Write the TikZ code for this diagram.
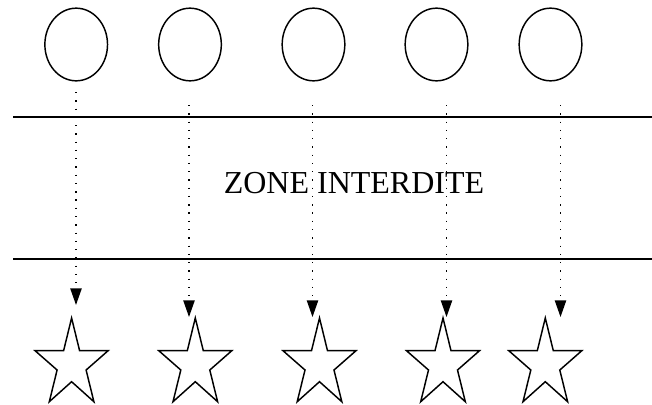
\documentclass[tikz,border=0pt]{standalone}
\usepackage{fontspec}
\setmainfont{Liberation Serif}
\usetikzlibrary{shapes.geometric,arrows.meta}
\begin{document}
\begin{tikzpicture}[x=0.75pt,y=-0.75pt,
  ball/.style={draw,ellipse,line width=1.1pt,minimum width=47pt,minimum height=54.5pt,inner sep=0pt},
  wall/.style={line width=1.7pt},
  fall/.style={line width=1pt,dash pattern=on 1pt off 5.2pt,
    -{Triangle[length=12.5pt,width=8.5pt,sharp]}},
  starline/.style={line width=1.1pt,line join=miter}]
  \useasboundingbox (0,0) rectangle (652,404);
  % top row of ellipses
  \node[ball] (c1) at (76.2,44.5) {};
  \node[ball] (c2) at (190,44.5) {};
  \node[ball] (c3) at (313.5,44.5) {};
  \node[ball] (c4) at (436.5,44.5) {};
  \node[ball] (c5) at (550.5,44.5) {};
  % the two boundary lines
  \coordinate (w1a) at (13,117); \coordinate (w1b) at (652,117);
  \coordinate (w2a) at (13,259); \coordinate (w2b) at (652,259);
  \draw[wall] (w1a) -- (w1b);
  \draw[wall] (w2a) -- (w2b);
  \node[font=\fontsize{24pt}{28pt}\selectfont,inner sep=0pt,anchor=base] (zone) at (354,193) {ZONE INTERDITE};
  % stars, given by their top point
  \foreach \i/\x in {1/71.6,2/195.3,3/319.5,4/443,5/545.3}{
    \coordinate (s\i) at (\x,318);
    \draw[starline,shift={(s\i)}]
      (0,0) -- (8,32.7) -- (36.5,32.7) -- (14.5,52) -- (22.3,83.7) -- (0,63.7)
      -- (-22.3,83.7) -- (-14.5,52) -- (-36.5,32.7) -- (-8,32.7) -- cycle;
  }
  % falling paths
  \coordinate (a1) at (76,92);    \coordinate (b1) at (76,305);
  \coordinate (a2) at (189,105);  \coordinate (b2) at (189,317);
  \coordinate (a3) at (312.5,105);\coordinate (b3) at (312.5,317);
  \coordinate (a4) at (446.5,105);\coordinate (b4) at (446.5,317);
  \coordinate (a5) at (560.5,105);\coordinate (b5) at (560.5,317);
  \foreach \i in {1,...,5}{\draw[fall] (a\i) -- (b\i);}
\end{tikzpicture}
\end{document}
